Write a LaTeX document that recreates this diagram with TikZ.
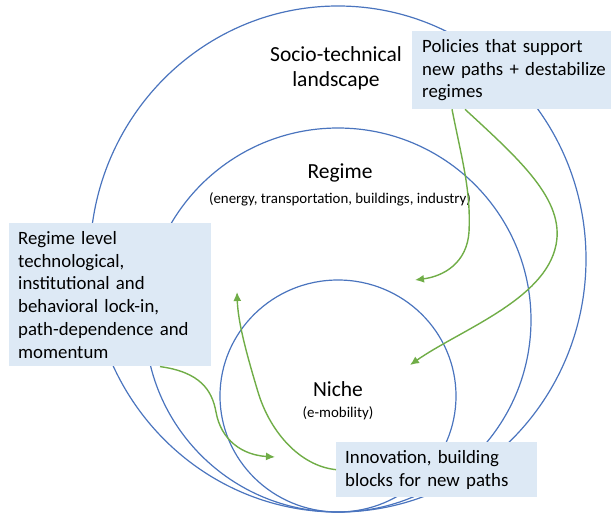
\documentclass[tikz,border=0pt]{standalone}
\usepackage{fontspec}
\setmainfont{Carlito}
\usetikzlibrary{arrows.meta,positioning}
\definecolor{ringblue}{RGB}{74,116,190}
\definecolor{flowgreen}{RGB}{112,173,71}
\definecolor{notefill}{RGB}{221,233,245}
\tikzset{
    ring/.style={% the nested ellipses
        draw=ringblue, line width=1.2pt},
    note/.style={% light blue boxes with the comments
        fill=notefill, align=left, anchor=north west, inner xsep=9pt, inner ysep=8pt,
        font=\fontsize{18.8}{22.8}\selectfont},
    level/.style={% titles inside the ellipses
        align=center, font=\fontsize{21.5}{25}\selectfont},
    sublevel/.style={% the bracketed examples
        font=\fontsize{14.9}{17}\selectfont},
    flow/.style={% green arrows
        draw=flowgreen, line width=1.4pt, ->}}

\begin{document}
\begin{tikzpicture}[x=1pt, y=-1pt, >={Latex[length=9pt,width=8pt]}]
\useasboundingbox (0,0) rectangle (611,515);
% nested levels, all touching at the bottom
\draw[ring] (338,259) ellipse [x radius=248pt, y radius=253pt];
\draw[ring] (338,320) ellipse [x radius=193pt, y radius=192pt];
\draw[ring] (338,396) ellipse [x radius=118pt, y radius=116pt];
\node[level] (landscape) at (336,68) {Socio-technical\\landscape};
\node[level] (regime) at (340,173) {Regime};
\node[sublevel] (regime sub) at (340,199) {(energy, transportation, buildings, industry)};
\node[level] (niche) at (338,389) {Niche};
\node[sublevel] (niche sub) at (338,413) {(e-mobility)};
% comment boxes
\node[note, text width=200pt, inner xsep=10pt] (policies) at (412,31) {Policies that support\\new paths + destabilize\\regimes};
\node[note, text width=184pt] (lockin) at (9,223) {Regime level\\technological,\\institutional and\\behavioral lock-in,\\path-dependence and\\momentum};
\node[note, text width=183pt] (innovation) at (336,442) {Innovation, building\\blocks for new paths};
% arrow ends
\coordinate (policy tip a) at (415,280);
\coordinate (policy tip b) at (410,365);
\coordinate (lockin tip) at (275,457);
\coordinate (innovation tip) at (237,292);
\draw[flow] ([xshift=40]policies.south west) .. controls (462,160) and (471,190) .. (469,232) .. controls (467,262) and (445,276) .. (policy tip a);
\draw[flow] ([xshift=53]policies.south west) .. controls (520,160) and (565,200) .. (556,245) .. controls (545,300) and (460,330) .. (policy tip b);
\draw[flow] ([xshift=151]lockin.south west) .. controls (200,372) and (212,390) .. (216,412) .. controls (221,440) and (242,455) .. (lockin tip);
\draw[flow] (innovation.west) .. controls (300,466) and (270,432) .. (258,392) .. controls (246,352) and (238,322) .. (innovation tip);
\end{tikzpicture}
\end{document}
